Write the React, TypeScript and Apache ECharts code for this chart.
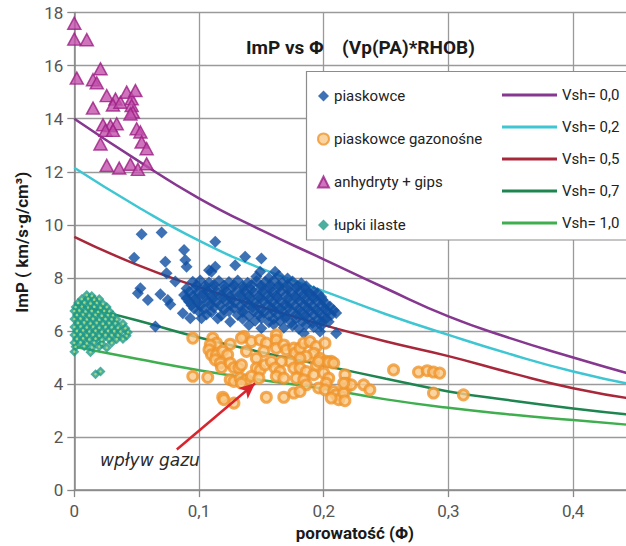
import React, { useEffect, useRef } from "react";
import * as echarts from "echarts";

// ---------- data ----------
const phiGrid = [0, 0.05, 0.1, 0.15, 0.2, 0.25, 0.3, 0.35, 0.4, 0.45];
const vsh00 = [14.0, 12.45, 11.0, 9.8, 8.7, 7.6, 6.55, 5.72, 5.0, 4.32];
const vsh02 = [12.15, 10.7, 9.4, 8.35, 7.5, 6.63, 5.85, 5.12, 4.47, 3.95];
const vsh05 = [9.55, 8.5, 7.65, 6.9, 6.22, 5.6, 5.05, 4.42, 3.84, 3.42];
const vsh07 = [7.0, 6.4, 5.75, 5.2, 4.7, 4.2, 3.72, 3.38, 3.08, 2.82];
const vsh10 = [5.4, 4.95, 4.52, 4.15, 3.82, 3.42, 3.1, 2.85, 2.64, 2.44];

const curveNames = ["Vsh= 0,0", "Vsh= 0,2", "Vsh= 0,5", "Vsh= 0,7", "Vsh= 1,0"];
const curveColors = ["#86378f", "#3fc6d3", "#a8283a", "#1f8550", "#3fae4e"];

const piaskowce: number[][] = [
  [0.054, 9.64], [0.07, 9.71], [0.048, 8.76], [0.088, 9.05], [0.089, 8.67], [0.09, 8.42], [0.073, 8.61],
  [0.074, 8.17], [0.081, 7.86], [0.053, 7.61], [0.051, 7.42], [0.059, 7.17], [0.069, 7.38], [0.075, 7.17],
  [0.077, 7.0], [0.065, 6.17], [0.087, 6.67], [0.093, 6.48], [0.102, 6.48], [0.108, 8.29], [0.113, 9.36],
  [0.137, 8.8], [0.15, 8.73], [0.161, 8.23], [0.129, 8.48], [0.113, 8.42], [0.11, 8.23], [0.149, 8.23],
  [0.184, 5.91], [0.197, 5.98], [0.21, 5.91], [0.204, 6.35],
  [0.146, 8.05], [0.156, 8.0], [0.164, 8.08], [0.171, 7.98],
  [0.095, 7.85], [0.101, 7.9], [0.108, 7.83], [0.116, 7.88], [0.124, 7.84], [0.131, 7.9], [0.139, 7.82],
  [0.146, 7.87], [0.153, 7.84], [0.16, 7.9], [0.167, 7.82], [0.175, 7.86], [0.182, 7.8],
  [0.098, 7.72], [0.105, 7.7], [0.112, 7.74], [0.12, 7.71], [0.128, 7.73], [0.135, 7.69], [0.142, 7.74],
  [0.15, 7.7], [0.157, 7.73], [0.164, 7.71], [0.171, 7.74], [0.179, 7.69], [0.186, 7.68],
  [0.09, 7.6], [0.097, 7.63], [0.105, 7.57], [0.112, 7.62], [0.12, 7.58], [0.127, 7.64], [0.135, 7.6],
  [0.142, 7.56], [0.15, 7.62], [0.157, 7.59], [0.164, 7.64], [0.171, 7.57], [0.178, 7.61], [0.186, 7.55], [0.192, 7.5],
  [0.092, 7.47], [0.099, 7.45], [0.107, 7.49], [0.114, 7.46], [0.122, 7.48], [0.129, 7.44], [0.137, 7.49],
  [0.144, 7.46], [0.151, 7.48], [0.159, 7.45], [0.166, 7.49], [0.174, 7.46], [0.181, 7.48], [0.188, 7.44], [0.195, 7.42],
  [0.088, 7.35], [0.095, 7.32], [0.103, 7.38], [0.11, 7.33], [0.118, 7.36], [0.125, 7.31], [0.133, 7.37],
  [0.14, 7.34], [0.148, 7.3], [0.155, 7.38], [0.162, 7.33], [0.17, 7.36], [0.177, 7.31], [0.184, 7.37],
  [0.191, 7.32], [0.198, 7.28],
  [0.09, 7.22], [0.097, 7.2], [0.104, 7.24], [0.111, 7.21], [0.119, 7.23], [0.126, 7.19], [0.134, 7.24],
  [0.141, 7.21], [0.149, 7.23], [0.156, 7.2], [0.163, 7.24], [0.171, 7.2], [0.178, 7.23], [0.185, 7.19],
  [0.192, 7.22], [0.199, 7.18],
  [0.092, 7.1], [0.099, 7.06], [0.107, 7.12], [0.114, 7.08], [0.122, 7.13], [0.129, 7.07], [0.137, 7.11],
  [0.144, 7.05], [0.152, 7.12], [0.159, 7.08], [0.166, 7.1], [0.173, 7.04], [0.181, 7.12], [0.188, 7.07],
  [0.195, 7.1], [0.202, 7.02],
  [0.094, 6.97], [0.101, 6.95], [0.109, 6.99], [0.117, 6.96], [0.125, 6.98], [0.133, 6.94], [0.14, 6.99],
  [0.147, 6.96], [0.155, 6.98], [0.162, 6.95], [0.169, 6.99], [0.177, 6.95], [0.184, 6.98], [0.191, 6.94],
  [0.198, 6.97], [0.205, 6.92],
  [0.096, 6.85], [0.104, 6.82], [0.112, 6.88], [0.12, 6.8], [0.128, 6.86], [0.136, 6.83], [0.143, 6.89],
  [0.15, 6.81], [0.158, 6.86], [0.165, 6.84], [0.172, 6.88], [0.18, 6.82], [0.187, 6.86], [0.194, 6.8],
  [0.201, 6.84], [0.208, 6.78],
  [0.1, 6.72], [0.11, 6.7], [0.124, 6.74], [0.135, 6.71], [0.144, 6.73], [0.152, 6.69], [0.16, 6.74],
  [0.167, 6.71], [0.174, 6.73], [0.182, 6.7], [0.189, 6.74], [0.196, 6.7], [0.203, 6.72], [0.21, 6.68],
  [0.106, 6.62], [0.118, 6.58], [0.131, 6.6], [0.14, 6.56], [0.148, 6.62], [0.156, 6.58], [0.163, 6.6],
  [0.17, 6.55], [0.178, 6.62], [0.185, 6.57], [0.192, 6.6], [0.199, 6.55], [0.206, 6.6],
  [0.115, 6.47], [0.135, 6.46], [0.15, 6.48], [0.16, 6.45], [0.169, 6.49], [0.178, 6.45], [0.187, 6.48],
  [0.195, 6.44], [0.202, 6.47],
  [0.125, 6.35], [0.145, 6.38], [0.156, 6.33], [0.165, 6.37], [0.174, 6.32], [0.183, 6.36], [0.191, 6.3], [0.198, 6.35],
  [0.14, 6.22], [0.16, 6.24], [0.175, 6.2], [0.186, 6.23], [0.198, 6.2],
  [0.15, 6.1], [0.168, 6.12], [0.18, 6.08], [0.192, 6.15],
];

const piaskowceGazonosne: number[][] = [
  [0.095, 5.73], [0.111, 5.73], [0.114, 5.54], [0.109, 5.47], [0.125, 5.5], [0.108, 5.29], [0.11, 5.1],
  [0.114, 5.1], [0.119, 5.23], [0.123, 5.1], [0.113, 4.91], [0.117, 4.79], [0.118, 4.62], [0.125, 4.79],
  [0.128, 4.62], [0.132, 4.6], [0.134, 4.72], [0.136, 5.79], [0.138, 5.23], [0.142, 5.6], [0.149, 5.66],
  [0.154, 5.54], [0.162, 5.85], [0.162, 5.66], [0.152, 5.23], [0.146, 4.97], [0.146, 4.6], [0.149, 4.53],
  [0.153, 4.72], [0.158, 4.85], [0.162, 5.35], [0.168, 5.47], [0.17, 5.29], [0.176, 5.35], [0.177, 5.16],
  [0.181, 5.35], [0.184, 5.54], [0.189, 5.6], [0.194, 5.41], [0.201, 5.54], [0.192, 5.16], [0.186, 5.04],
  [0.181, 4.97], [0.173, 4.85], [0.166, 4.85], [0.161, 4.6], [0.165, 4.47], [0.176, 4.6], [0.181, 4.6],
  [0.186, 4.47], [0.192, 4.35], [0.194, 4.72], [0.197, 4.97], [0.202, 4.85], [0.206, 4.85], [0.2, 4.41],
  [0.204, 4.22], [0.202, 4.03], [0.196, 3.85], [0.201, 3.78], [0.208, 3.72], [0.21, 3.59], [0.212, 3.41],
  [0.217, 4.35], [0.218, 4.03], [0.218, 3.85], [0.216, 3.66], [0.222, 3.97], [0.232, 3.97], [0.237, 3.78],
  [0.095, 4.29], [0.107, 4.25], [0.125, 4.16], [0.128, 4.1], [0.133, 4.22], [0.138, 4.16], [0.142, 4.29],
  [0.148, 4.22], [0.162, 4.29], [0.168, 4.22], [0.178, 4.22], [0.184, 4.16], [0.119, 3.5], [0.128, 3.28],
  [0.154, 3.5], [0.168, 3.5], [0.176, 3.66], [0.186, 3.97], [0.181, 3.72], [0.206, 3.47], [0.134, 4.03],
  [0.12, 3.41], [0.256, 4.53], [0.276, 4.45], [0.283, 4.5], [0.288, 4.45], [0.293, 4.41], [0.288, 3.66],
  [0.312, 3.59], [0.196, 4.85], [0.204, 4.82], [0.208, 4.79], [0.216, 4.03], [0.217, 3.37], [0.134, 5.73],
];

const anhydrytyGips: number[][] = [
  [0.0, 17.6], [0.0, 17.0], [0.01, 16.98], [0.002, 15.53], [0.021, 15.88], [0.015, 15.47], [0.018, 15.35],
  [0.015, 14.4], [0.026, 14.87], [0.033, 14.74], [0.031, 14.52], [0.037, 14.62], [0.042, 15.0], [0.046, 14.75],
  [0.049, 15.06], [0.046, 14.5], [0.047, 14.25], [0.045, 14.18], [0.023, 13.77], [0.029, 13.74], [0.034, 13.81],
  [0.025, 13.56], [0.031, 13.56], [0.021, 13.05], [0.05, 13.62], [0.053, 13.5], [0.054, 13.12], [0.058, 12.87],
  [0.026, 12.24], [0.036, 12.14], [0.045, 12.28], [0.051, 12.09], [0.058, 12.3],
];

const lupkiIlaste: number[][] = [
  [0.01, 7.35], [0.014, 7.32],
  [0.006, 7.2], [0.011, 7.22], [0.016, 7.18], [0.02, 7.2],
  [0.003, 7.05], [0.008, 7.07], [0.013, 7.03], [0.018, 7.06], [0.023, 7.02],
  [0.001, 6.9], [0.006, 6.92], [0.011, 6.88], [0.016, 6.91], [0.021, 6.87], [0.026, 6.9],
  [0.0, 6.75], [0.004, 6.77], [0.009, 6.73], [0.014, 6.76], [0.019, 6.72], [0.024, 6.75], [0.028, 6.74],
  [0.002, 6.6], [0.007, 6.62], [0.012, 6.58], [0.017, 6.61], [0.022, 6.57], [0.027, 6.6], [0.031, 6.59],
  [0.0, 6.45], [0.005, 6.47], [0.01, 6.43], [0.015, 6.46], [0.02, 6.42], [0.025, 6.45], [0.03, 6.44], [0.034, 6.43],
  [0.003, 6.3], [0.008, 6.32], [0.013, 6.28], [0.018, 6.31], [0.023, 6.27], [0.028, 6.3], [0.033, 6.29], [0.039, 6.27],
  [0.0, 6.15], [0.005, 6.17], [0.01, 6.13], [0.015, 6.16], [0.02, 6.12], [0.025, 6.15], [0.03, 6.14], [0.035, 6.12], [0.041, 6.1],
  [0.002, 6.0], [0.007, 6.02], [0.012, 5.98], [0.017, 6.01], [0.022, 5.97], [0.027, 6.0], [0.032, 5.99], [0.037, 5.98], [0.043, 5.95],
  [0.0, 5.85], [0.005, 5.87], [0.01, 5.83], [0.015, 5.86], [0.02, 5.82], [0.025, 5.85], [0.03, 5.84], [0.035, 5.83], [0.042, 5.82],
  [0.002, 5.7], [0.007, 5.72], [0.012, 5.68], [0.017, 5.71], [0.022, 5.67], [0.028, 5.7], [0.034, 5.69], [0.039, 5.7],
  [0.0, 5.55], [0.005, 5.57], [0.01, 5.53], [0.016, 5.56], [0.022, 5.52], [0.03, 5.55],
  [0.001, 5.4], [0.008, 5.42], [0.014, 5.38], [0.02, 5.41], [0.026, 5.37],
  [0.0, 5.22], [0.013, 5.2],
  [0.017, 4.37], [0.021, 4.47],
];

const arrowFrom = [0.0822, 1.53];
const arrowTo = [0.145, 4.03];

const FONT = "Roboto, 'Liberation Sans', sans-serif";

export default function App() {
  const ref = useRef<HTMLDivElement>(null);
  useEffect(() => {
    document.body.style.overflow = "hidden";
    const chart = echarts.init(ref.current!, null, { renderer: "svg" });
    const curve = (vals: number[]) => phiGrid.map((p, i) => [p, vals[i]]);
    const curveData = [vsh00, vsh02, vsh05, vsh07, vsh10];
    const gridColor = "#9a9a9a";
    const lineSeries = curveData.map((vals, i) => ({
      type: "line",
      name: curveNames[i],
      data: curve(vals),
      smooth: true,
      symbol: "none",
      lineStyle: { width: 2.5, color: curveColors[i] },
      itemStyle: { color: curveColors[i] },
      z: 2,
    }));
    const titleStyle = { fontFamily: FONT, fontWeight: "bold", fontSize: 19, color: "#1a1a1a" };
    chart.setOption({
      animation: false,
      backgroundColor: "#fff",
      textStyle: { fontFamily: FONT },
      title: [
        { text: "ImP vs Φ", left: 241, top: 33, textStyle: titleStyle },
        { text: "(Vp(PA)*RHOB)", left: 337, top: 33, textStyle: titleStyle },
      ],
      grid: { left: 74.3, top: 12.6, right: 10.5, bottom: 53.7 },
      xAxis: {
        type: "value",
        min: 0,
        max: 0.45,
        interval: 0.1,
        name: "porowatość (Φ)",
        nameLocation: "middle",
        nameGap: 33,
        nameTextStyle: { fontFamily: FONT, fontWeight: "bold", fontSize: 17, color: "#1a1a1a" },
        axisLine: { lineStyle: { color: "#888", width: 1.5 } },
        axisTick: { show: true, length: 7, lineStyle: { color: "#888", width: 1.3 } },
        splitLine: { show: true, lineStyle: { color: gridColor, width: 1.3 } },
        axisLabel: {
          showMaxLabel: false,
          margin: 12,
          color: "#555",
          fontSize: 17,
          fontFamily: FONT,
          formatter: (v: number) =>
            Math.abs(v * 10 - Math.round(v * 10)) < 1e-6 ? String(Math.round(v * 10) / 10).replace(".", ",") : "",
        },
      },
      yAxis: {
        type: "value",
        min: 0,
        max: 18,
        interval: 2,
        name: "ImP ( km/s·g/cm³)",
        nameLocation: "middle",
        nameGap: 44,
        nameRotate: 90,
        nameTextStyle: { fontFamily: FONT, fontWeight: "bold", fontSize: 17, color: "#1a1a1a", padding: [0, 0, 0, 18] },
        axisLine: { show: true, lineStyle: { color: "#888", width: 1.5 } },
        axisTick: { show: true, length: 7, lineStyle: { color: "#888", width: 1.3 } },
        splitLine: { show: true, lineStyle: { color: gridColor, width: 1.3 } },
        axisLabel: { margin: 11, color: "#555", fontSize: 17, fontFamily: FONT },
      },
      legend: [
        {
          left: 312,
          top: 83,
          orient: "vertical",
          itemGap: 27,
          itemWidth: 11,
          itemHeight: 11,
          z: 6,
          textStyle: { fontFamily: FONT, fontSize: 15, color: "#222", lineHeight: 16 },
          data: ["piaskowce", "piaskowce gazonośne", "anhydryty + gips", "łupki ilaste"],
        },
        {
          left: 497,
          top: 82,
          orient: "vertical",
          itemGap: 16,
          itemWidth: 55,
          itemHeight: 3,
          z: 6,
          textStyle: { fontFamily: FONT, fontSize: 15, color: "#222", lineHeight: 16 },
          data: curveNames.map((n) => ({ name: n, icon: "rect" })),
        },
      ],
      graphic: [
        {
          type: "rect",
          z: 3,
          shape: { x: 306.5, y: 71.5, width: 340, height: 168.5 },
          style: { fill: "#fff", stroke: "#8c8c8c", lineWidth: 1.2 },
        },
        {
          type: "text",
          z: 10,
          left: 100,
          top: 451,
          style: {
            text: "wpływ gazu",
            fontFamily: "'DejaVu Sans', sans-serif",
            fontStyle: "italic",
            fontSize: 17,
            fill: "#2a2a2a",
          },
        },
      ],
      series: [
        ...lineSeries,
        {
          type: "scatter",
          name: "łupki ilaste",
          data: lupkiIlaste,
          symbol: "diamond",
          symbolSize: 10,
          itemStyle: { color: "#1f9a86" },
          z: 4,
        },
        {
          type: "scatter",
          name: "łupki-środek",
          data: lupkiIlaste,
          symbol: "circle",
          symbolSize: 2.5,
          itemStyle: { color: "#b8e27e" },
          silent: true,
          z: 4,
        },
        {
          type: "scatter",
          name: "anhydryty + gips",
          data: anhydrytyGips,
          symbol: "triangle",
          symbolSize: [13, 12],
          itemStyle: { color: "#c250ab", borderColor: "#9c1f84", borderWidth: 1.5 },
          z: 4,
        },
        {
          type: "scatter",
          name: "piaskowce",
          data: piaskowce,
          symbol: "diamond",
          symbolSize: 12,
          itemStyle: { color: "#0f4fa3" },
          z: 4,
        },
        {
          type: "scatter",
          name: "piaskowce gazonośne",
          data: piaskowceGazonosne,
          symbol: "circle",
          symbolSize: 10,
          itemStyle: { color: "#f9c98a", borderColor: "#f0952c", borderWidth: 3 },
          z: 5,
          markLine: {
            silent: true,
            symbol: ["none", "arrow"],
            symbolSize: [11, 16],
            label: { show: false },
            lineStyle: { color: "#d9232d", width: 2.5, type: "solid" },
            data: [[{ coord: arrowFrom }, { coord: arrowTo }]],
            z: 8,
          },
        },
      ],
    });
    return () => chart.dispose();
  }, []);
  return (
    <div
      ref={ref}
      style={{ position: "fixed", left: 0, top: 0, width: 646, height: 546, background: "#fff" }}
    />
  );
}
